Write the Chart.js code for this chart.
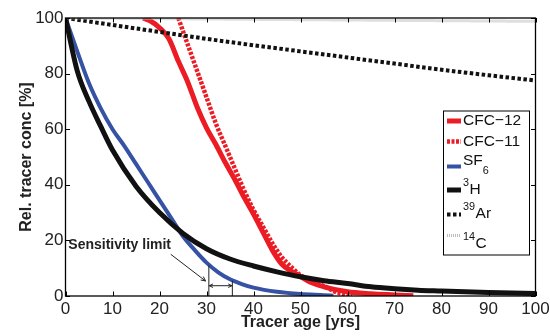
<!DOCTYPE html>
<html>
<head>
<meta charset="utf-8">
<script src="https://cdn.jsdelivr.net/npm/chart.js@4.4.1/dist/chart.umd.min.js"></script>
<style>
html,body{margin:0;padding:0;background:#fff}
#wrap{width:550px;height:336px}
</style>
</head>
<body>
<div id="wrap"><canvas id="c" width="550" height="336"></canvas></div>
<script>
/* DATA */
const names=["CFC\u221212","CFC\u221211","SF_6","^3H","^39Ar","^14C"];

const cfc12Age=[16.5,18,20,22,24,26,28,30,32,34,36,38,40,42,44,46,48,50,52,55,60,65,70,74];
const cfc12Val=[100,99,96.5,92.5,84.5,77,68,60.5,54.5,48,42,35.5,29.5,23,16.5,11.5,9,7,5,3.3,1.5,0.8,0.4,0.1];

const cfc11Age=[24,26,28,30,32,34,36,38,40,42,44,46,48,50,52,55,58,61];
const cfc11Val=[100,90.5,81,71.5,62,54,46,38,31,25,19,14,10.5,7.5,5.5,3.5,1.2,0.3];

const sf6Age=[0,2.5,5,7.5,10,12.5,15,17.5,20,22.5,25,27.5,30,32.5,35,37.5,40,45,50,55,57];
const sf6Val=[100,88,76.5,67.5,60,54,47.5,41,34.5,28,21.5,16.5,12,8.5,6,4.3,3,1.5,0.7,0.3,0.1];

const h3Age=[0,2.5,5,7.5,10,15,20,25,30,35,40,45,50,55,60,65,70,75,80,85,90,95,100];
const h3Val=[100,81,70,61,52.5,39.5,30,22.5,17,13.3,10.8,8.7,6.9,5.5,4.5,3.3,2.6,2.1,1.8,1.5,1.3,1.1,0.9];

const ar39Age=[0,10,20,30,40,50,60,70,80,90,100];
const ar39Val=[100,97.5,95,92.5,90.2,88,85.8,83.6,81.4,79.4,77.5];

const c14Age=[0,50,100];
const c14Val=[100,99.4,98.8];

const xTicks=[0,10,20,30,40,50,60,70,80,90,100];
const yTicks=[0,20,40,60,80,100];

const sensLimit=[30.5,35.5];

/* styles */
const FONT='"Liberation Sans", Arial, Helvetica, sans-serif';
const RED='#ec1c24', BLUE='#3552a4', BLACK='#111', GREY='#bdbdbd';
const styles=[
{color:RED,width:5,dash:[]},
{color:RED,width:4.5,dash:[3,1.5]},
{color:BLUE,width:4,dash:[]},
{color:BLACK,width:5,dash:[]},
{color:BLACK,width:4,dash:[3.5,2.5]},
{color:GREY,width:3,dash:[1,1]}
];

function pts(a,v){return a.map((t,i)=>({x:t,y:v[i]}));}
const series=[pts(cfc12Age,cfc12Val),pts(cfc11Age,cfc11Val),pts(sf6Age,sf6Val),
pts(h3Age,h3Val),pts(ar39Age,ar39Val),pts(c14Age,c14Val)];

/* text with ^sup and _sub */
function richText(ctx,str,x,y,size){
let re=/([\^_])(\d+)|[^\^_]+/g,m;
ctx.textBaseline='middle';ctx.textAlign='left';
while((m=re.exec(str))){
if(m[1]){
ctx.font=(size*0.7)+'px '+FONT;
let dy=m[1]=='^'?-7:10;
ctx.fillText(m[2],x,y+dy);
x+=ctx.measureText(m[2]).width+0.5;
}else{
ctx.font=size+'px '+FONT;
ctx.fillText(m[0],x,y);
x+=ctx.measureText(m[0]).width;
}
}
}

function arrowHead(ctx,x1,y1,x2,y2,len){
let a=Math.atan2(y2-y1,x2-x1);
ctx.beginPath();
ctx.moveTo(x2,y2);
ctx.lineTo(x2-len*Math.cos(a-0.45),y2-len*Math.sin(a-0.45));
ctx.moveTo(x2,y2);
ctx.lineTo(x2-len*Math.cos(a+0.45),y2-len*Math.sin(a+0.45));
ctx.stroke();
}

const decor={id:'decor',afterDraw(chart){
const {ctx,chartArea:a,scales:{x,y}}=chart;
ctx.save();

/* sensitivity limit annotation */
ctx.fillStyle='#222';
ctx.font='bold 14px '+FONT;
ctx.textBaseline='alphabetic';ctx.textAlign='left';
ctx.fillText('Sensitivity limit',x.getPixelForValue(0.6),y.getPixelForValue(16.8));
ctx.strokeStyle='#222';ctx.lineWidth=1;
let ax1=x.getPixelForValue(22.4),ay1=y.getPixelForValue(15),ax2=x.getPixelForValue(29.8),ay2=y.getPixelForValue(5.4);
ctx.beginPath();ctx.moveTo(ax1,ay1);ctx.lineTo(ax2,ay2);ctx.stroke();
arrowHead(ctx,ax1,ay1,ax2,ay2,5);
let l1=x.getPixelForValue(sensLimit[0]),l2=x.getPixelForValue(sensLimit[1]);
ctx.beginPath();
ctx.moveTo(l1,a.bottom);ctx.lineTo(l1,y.getPixelForValue(11));
ctx.moveTo(l2,a.bottom);ctx.lineTo(l2,y.getPixelForValue(5.5));
let hy=y.getPixelForValue(3.7);
ctx.moveTo(l1,hy);ctx.lineTo(l2,hy);
ctx.stroke();
arrowHead(ctx,l2,hy,l1+0.5,hy,4);
arrowHead(ctx,l1,hy,l2-0.5,hy,4);

/* frame and inward ticks */
ctx.strokeStyle='#000';ctx.lineWidth=1.3;
ctx.strokeRect(a.left,a.top,a.right-a.left,a.bottom-a.top);
ctx.lineWidth=1;
ctx.beginPath();
xTicks.forEach(v=>{
let px=Math.round(x.getPixelForValue(v))+0.5;
ctx.moveTo(px,a.bottom);ctx.lineTo(px,a.bottom-4.5);
ctx.moveTo(px,a.top);ctx.lineTo(px,a.top+4.5);
});
yTicks.forEach(v=>{
let py=Math.round(y.getPixelForValue(v))+0.5;
ctx.moveTo(a.left,py);ctx.lineTo(a.left+4.5,py);
ctx.moveTo(a.right,py);ctx.lineTo(a.right-4.5,py);
});
ctx.stroke();

/* legend */
let L=a.right-92.5,T=a.top+92.5,W=86,H=144;
ctx.fillStyle='#fff';ctx.fillRect(L,T,W,H);
ctx.strokeStyle='#000';ctx.lineWidth=1;ctx.strokeRect(L+0.5,T+0.5,W,H);
const textY=[10.5,31,50.5,79,103,133];
const lineY=[10.5,31,56,79.5,104,125];
names.forEach((n,i)=>{
let s=styles[i];
ctx.strokeStyle=s.color;ctx.lineWidth=s.width;ctx.setLineDash(s.dash);
ctx.beginPath();ctx.moveTo(L+4,T+lineY[i]);ctx.lineTo(L+18,T+lineY[i]);ctx.stroke();
ctx.setLineDash([]);
ctx.fillStyle='#111';
richText(ctx,n,L+20,T+textY[i],15.5);
});
ctx.restore();
}};

new Chart(document.getElementById('c'),{
type:'line',
data:{
datasets:series.map((d,i)=>({
label:names[i],
data:d,
borderColor:styles[i].color,
borderWidth:styles[i].width,
borderDash:styles[i].dash,
pointRadius:0,
fill:false,
cubicInterpolationMode:'monotone',
order:5-i
}))
},
options:{
responsive:false,animation:false,devicePixelRatio:1,
layout:{padding:{top:18,right:14.5,left:0,bottom:0}},
plugins:{legend:{display:false},tooltip:{enabled:false}},
scales:{
x:{type:'linear',min:0,max:100,
grid:{display:false,drawTicks:false},border:{display:false},
ticks:{font:{family:FONT,size:17},color:'#222',padding:3,maxRotation:0},
afterBuildTicks(s){s.ticks=xTicks.map(v=>({value:v}));},
afterFit(s){s.height=40;s.paddingLeft=0;s.paddingRight=0;},
title:{display:true,text:'Tracer age [yrs]',color:'#222',font:{family:FONT,size:16,weight:'bold'},padding:{top:0,bottom:4}}
},
y:{type:'linear',min:0,max:100,
grid:{display:false,drawTicks:false},border:{display:false},
ticks:{font:{family:FONT,size:17},color:'#222',padding:2},
afterBuildTicks(s){s.ticks=yTicks.map(v=>({value:v}));},
afterFit(s){s.width=65.5;s.paddingTop=0;s.paddingBottom=0;},
title:{display:true,text:'Rel. tracer conc [%]',color:'#222',font:{family:FONT,size:16,weight:'bold'},padding:{top:17,bottom:0}}
}
}
},
plugins:[decor]
});
</script>
</body>
</html>
